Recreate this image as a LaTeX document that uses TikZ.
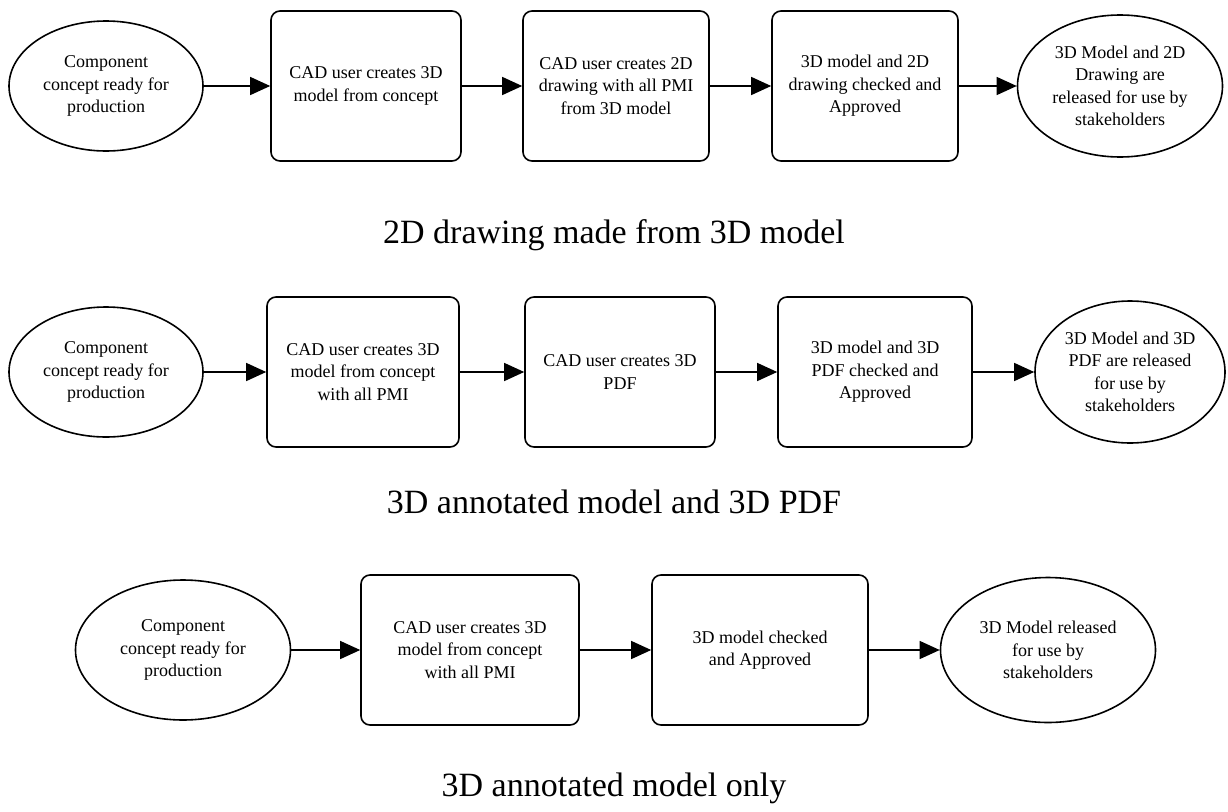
\documentclass[tikz,border=0pt]{standalone}
\usepackage{fontspec}
\setmainfont{Liberation Serif}
\usetikzlibrary{shapes.geometric,arrows.meta}
\tikzset{
  stepbox/.style={draw,line width=1.6pt,rounded corners=9pt,align=center,font=\fontsize{18}{22.5}\selectfont,inner sep=2pt},
  endell/.style={draw,ellipse,line width=1.6pt,align=center,font=\fontsize{18}{22.5}\selectfont,inner sep=0pt},
  flow/.style={line width=1.3pt,-{Triangle[length=20pt,width=18pt]}},
  caption/.style={font=\fontsize{34}{40}\selectfont}
}
\begin{document}
\begin{tikzpicture}[x=1pt,y=-1pt]
\useasboundingbox (0,0) rectangle (1228,811);
% Row 1
\node[endell,minimum width=194pt,minimum height=130pt] (a1) at (106,86) {Component\\concept ready for\\production};
\node[stepbox,minimum width=190pt,minimum height=150pt] (a2) at (366,86) {CAD user creates 3D\\model from concept};
\node[stepbox,minimum width=186pt,minimum height=150pt] (a3) at (616,86) {CAD user creates 2D\\drawing with all PMI\\from 3D model};
\node[stepbox,minimum width=186pt,minimum height=150pt] (a4) at (865,86) {3D model and 2D\\drawing checked and\\Approved};
\node[endell,minimum width=205pt,minimum height=142pt] (a5) at (1120,86) {3D Model and 2D\\Drawing are\\released for use by\\stakeholders};
\draw[flow] (a1) -- (a2);
\draw[flow] (a2) -- (a3);
\draw[flow] (a3) -- (a4);
\draw[flow] (a4) -- (a5);
\node[caption] (t1) at (614,235) {2D drawing made from 3D model};
% Row 2
\node[endell,minimum width=194pt,minimum height=130pt] (b1) at (106,372) {Component\\concept ready for\\production};
\node[stepbox,minimum width=192pt,minimum height=150pt] (b2) at (363,372) {CAD user creates 3D\\model from concept\\with all PMI};
\node[stepbox,minimum width=190pt,minimum height=150pt] (b3) at (620,372) {CAD user creates 3D\\PDF};
\node[stepbox,minimum width=194pt,minimum height=150pt] (b4) at (875,372) {3D model and 3D\\PDF checked and\\Approved};
\node[endell,minimum width=190pt,minimum height=142pt] (b5) at (1130,372) {3D Model and 3D\\PDF are released\\for use by\\stakeholders};
\draw[flow] (b1) -- (b2);
\draw[flow] (b2) -- (b3);
\draw[flow] (b3) -- (b4);
\draw[flow] (b4) -- (b5);
\node[caption] (t2) at (614,502) {3D annotated model and 3D PDF};
% Row 3
\node[endell,minimum width=215pt,minimum height=140pt] (c1) at (183,650) {Component\\concept ready for\\production};
\node[stepbox,minimum width=218pt,minimum height=150pt] (c2) at (470,650) {CAD user creates 3D\\model from concept\\with all PMI};
\node[stepbox,minimum width=216pt,minimum height=150pt] (c3) at (760,650) {3D model checked\\and Approved};
\node[endell,minimum width=215pt,minimum height=145pt] (c4) at (1048,650) {3D Model released\\for use by\\stakeholders};
\draw[flow] (c1) -- (c2);
\draw[flow] (c2) -- (c3);
\draw[flow] (c3) -- (c4);
\node[caption] (t3) at (614,788) {3D annotated model only};
\end{tikzpicture}
\end{document}
